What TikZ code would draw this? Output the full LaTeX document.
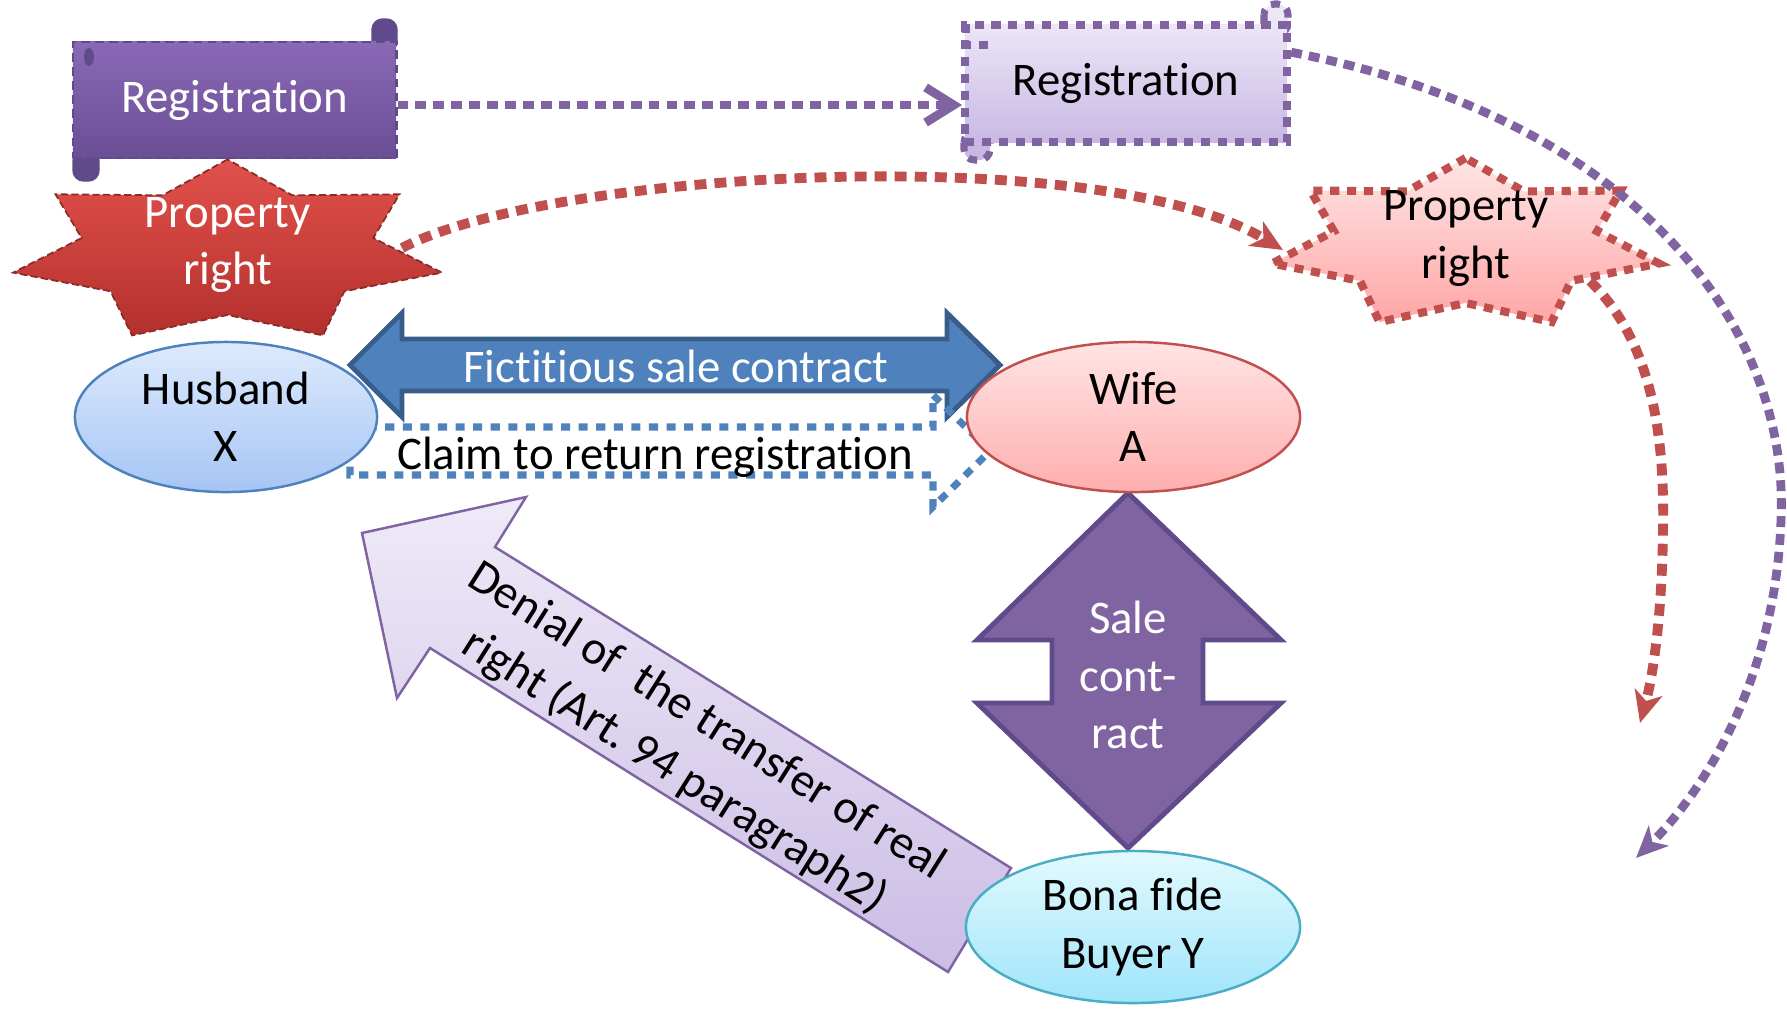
\documentclass[tikz,border=0pt]{standalone}
\usepackage{fontspec}
\setmainfont{Carlito}[Ligatures=NoCommon]
\usetikzlibrary{arrows.meta,calc,shapes.geometric}

\definecolor{regpurple}{HTML}{8064A2}
\definecolor{regdark}{HTML}{5F4B8B}
\definecolor{regtop}{HTML}{8A68B6}
\definecolor{regbot}{HTML}{6B4E95}
\definecolor{reglighttop}{HTML}{ECE6F7}
\definecolor{reglightbot}{HTML}{C8B9E4}
\definecolor{prred}{HTML}{C0504D}
\definecolor{prdark}{HTML}{8B2B28}
\definecolor{startop}{HTML}{E2514B}
\definecolor{starbot}{HTML}{B3302D}
\definecolor{starlighttop}{HTML}{FFE5E5}
\definecolor{starlightbot}{HTML}{FFA6A6}
\definecolor{fsblue}{HTML}{4F81BD}
\definecolor{fsborder}{HTML}{385D8A}
\definecolor{husbandtop}{HTML}{DDEAFC}
\definecolor{husbandbot}{HTML}{A6C5F5}
\definecolor{wifetop}{HTML}{FFE4E4}
\definecolor{wifebot}{HTML}{FFAEAE}
\definecolor{buyertop}{HTML}{E2F9FE}
\definecolor{buyerbot}{HTML}{A0E5FA}
\definecolor{buyerline}{HTML}{4BACC6}
\definecolor{denialtop}{HTML}{EFEAF8}
\definecolor{denialbot}{HTML}{CBBDE5}

\begin{document}
\begin{tikzpicture}[x=0.01cm,y=-0.01cm]
	\tikzset{
		txt/.style={font=\fontsize{13.3}{16.3}\selectfont,align=center,inner sep=0pt},
		regbox/.style={txt,draw=regdark,line width=0.8pt,dash pattern=on 2.5pt off 1.5pt,
			top color=regtop,bottom color=regbot,text=white,minimum width=3.23cm,minimum height=1.16cm},
		regboxlight/.style={txt,draw=regpurple,line width=2.3pt,dash pattern=on 2.6pt off 2.2pt,
			top color=reglighttop,bottom color=reglightbot,minimum width=3.22cm,minimum height=1.17cm},
		person/.style={txt,ellipse,line width=0.7pt},
		purpledots/.style={draw=regpurple,line width=2.5pt,dash pattern=on 3.1pt off 2pt},
		reddots/.style={draw=prred,line width=2.8pt,dash pattern=on 3.4pt off 2.3pt},
		bluedots/.style={draw=fsblue,line width=2pt,dash pattern=on 2.6pt off 2.4pt},
		tip/.style={-{Stealth[length=9pt,width=8pt,inset=2.5pt]}}
	}
	\def\starratio{0.68}
	\useasboundingbox (0,0) rectangle (1787,1008);

	% registration scrolls
	\draw[regdark,fill=regdark,rounded corners=3pt] (372,19) rectangle (397,52);
	\draw[regdark,fill=regdark,rounded corners=3pt] (73,150) rectangle (99,181);
	\node[regbox] (reg1) at (234.5,100) {Registration};
	\fill[regdark] (89,57) ellipse [x radius=5, y radius=9];
	\draw[regpurple,line width=2pt,dash pattern=on 2.6pt off 2.2pt,fill=reglighttop,rounded corners=3pt]
		(1264,4) rectangle (1288,34);
	\draw[regpurple,line width=2pt,dash pattern=on 2.6pt off 2.2pt,fill=reglightbot,rounded corners=3pt]
		(964,132) rectangle (990,160);
	\node[regboxlight] (reg2) at (1126,83.5) {Registration};
	\draw[regpurple,line width=2pt,dash pattern=on 2.6pt off 2.2pt] (966,24) -- (966,45) -- (988,45);

	\coordinate (linkend) at (962,105);
	\draw[purpledots,-{Straight Barb[length=8pt,width=10pt]}] (reg1.east |- linkend) -- (linkend);

	% property right stars
	\draw[draw=prdark,line width=0.5pt,dash pattern=on 2pt off 1pt,top color=startop,bottom color=starbot]
		plot[variable=\idx,samples at={0,...,13}]
		({227.5+220*(1-(1-\starratio)*mod(\idx,2))*cos(90+\idx*180/7)},
		 {252-92.6*(1-(1-\starratio)*mod(\idx,2))*sin(90+\idx*180/7)}) -- cycle;
	\node[txt,text=white] (pr1) at (227.5,245) {Property\\right};
	\draw[draw=prred,line width=2.3pt,dash pattern=on 2.6pt off 2.2pt,top color=starlighttop,bottom color=starlightbot]
		plot[variable=\idx,samples at={0,...,13}]
		({1465.5+198.5*(1-(1-\starratio)*mod(\idx,2))*cos(90+\idx*180/7)},
		 {244.3-86.3*(1-(1-\starratio)*mod(\idx,2))*sin(90+\idx*180/7)}) -- cycle;
	\node[txt] (pr2) at (1466,238.5) {Property\\right};

	\coordinate (pr1out) at (402,248);
	\coordinate (pr2in) at (1283,250);
	\coordinate (pr2out) at (1590,281);
	\coordinate (prend) at (1640,723);
	\coordinate (reg2out) at ($(reg2.north east)!0.25!(reg2.south east)$);
	\coordinate (regend) at (1636,858);
	\draw[reddots,tip] (pr1out) .. controls (550,170) and (1100,140) .. (pr2in);
	\draw[reddots,tip] (pr2out) .. controls (1650,340) and (1665,430) .. (1663,530)
		.. controls (1662,620) and (1652,680) .. (prend);
	\draw[purpledots,tip] (reg2out) .. controls (1640,120) and (1790,330) .. (1781,520)
		.. controls (1775,690) and (1695,800) .. (regend);

	% block arrows
	\draw[draw=fsborder,line width=1.4pt,fill=fsblue]
		(350,365) -- (402,313) -- (402,339) -- (947,339) -- (947,313) -- (1000,365)
		-- (947,417) -- (947,391) -- (402,391) -- (402,417) -- cycle;
	\node[txt,text=white] (fictitious) at (676,366) {Fictitious sale contract};
	\draw[bluedots] (350,427) -- (933,427) -- (933,395) -- (990,451) -- (933,507) -- (933,475) -- (350,475) -- cycle;
	\node[txt] (claim) at (655,457) {Claim to return registration};
	\draw[draw=regdark,line width=1.4pt,fill=regpurple]
		(1128,493) -- (1281,640) -- (1203,640) -- (1203,703) -- (1281,703) -- (1128,848)
		-- (977,703) -- (1052,703) -- (1052,640) -- (977,640) -- cycle;
	\node[txt,text=white] (sale) at (1128,675) {Sale\\cont-\\ract};
	\draw[draw=regpurple,line width=0.7pt,top color=denialtop,bottom color=denialbot]
		(362,533) -- (526,497) -- (495,547) -- (1011,868) -- (948,972) -- (430,648) -- (397,698) -- cycle;
	\node[txt,rotate=-32.3,font=\fontsize{13.5}{17}\selectfont] (denial) at (690,747)
		{Denial of~ the transfer of real\\right (Art.\ 94 paragraph2)};

	% parties
	\node[person,draw=fsblue,top color=husbandtop,bottom color=husbandbot,
		minimum width=3.02cm,minimum height=1.5cm] (husband) at (226,417) {Husband\\X};
	\node[person,draw=prred,top color=wifetop,bottom color=wifebot,
		minimum width=3.33cm,minimum height=1.5cm] (wife) at (1133.5,417) {Wife\\A};
	\node[person,draw=buyerline,top color=buyertop,bottom color=buyerbot,
		minimum width=3.34cm,minimum height=1.52cm] (buyer) at (1133,927) {Bona fide\\Buyer Y};
\end{tikzpicture}
\end{document}
